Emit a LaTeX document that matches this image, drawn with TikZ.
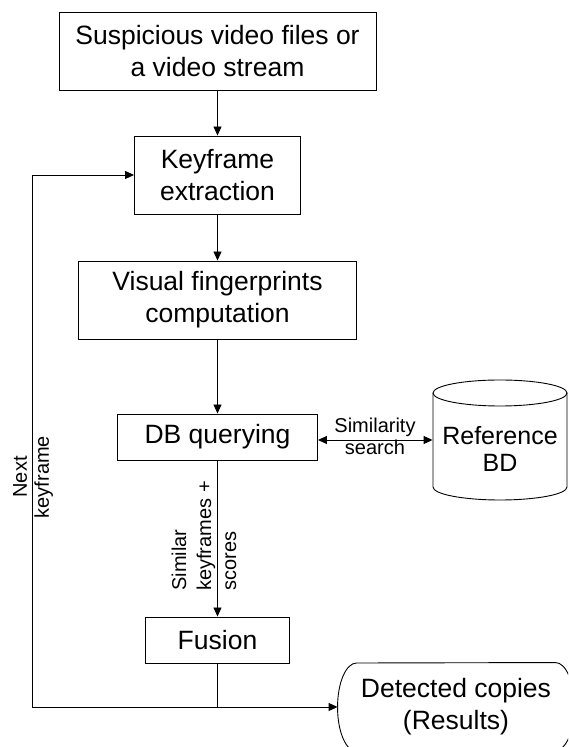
\documentclass[tikz,border=0pt]{standalone}
\usepackage{fontspec}
\setmainfont{Liberation Sans}
\usetikzlibrary{arrows.meta}

\begin{document}
\begin{tikzpicture}[x=1pt,y=1pt,
  line width=0.9pt,
  boxtext/.style={font=\fontsize{26.5}{32}\selectfont, align=center},
  procbox/.style={boxtext, draw, rectangle, inner sep=0pt},
  smalllbl/.style={font=\fontsize{20}{22}\selectfont, inner sep=0pt},
  flow/.style={-{Triangle[length=9pt,width=8pt]}},
  bothflow/.style={{Triangle[length=9pt,width=8pt]}-{Triangle[length=9pt,width=8pt]}}
]
\clip (0,0) rectangle (568,747);

% processing steps
\node[procbox, minimum width=317, minimum height=78] (src) at (217.5,696)
  {Suspicious video files or\\a video stream};
\node[procbox, minimum width=166, minimum height=78] (key) at (217.5,572)
  {Keyframe\\extraction};
\node[procbox, minimum width=278, minimum height=78] (fp) at (217.5,447)
  {Visual fingerprints\\computation};
\node[procbox, minimum width=200, minimum height=46] (db) at (217.5,310)
  {DB querying};
\node[procbox, minimum width=144, minimum height=46] (fus) at (217.5,107)
  {Fusion};

% reference database (cylinder)
\node[inner sep=0pt, minimum width=134, minimum height=120] (ref) at (500,307) {};
\draw (433,354) -- (433,260) arc[start angle=180, end angle=360, x radius=67, y radius=13]
      -- (567,354);
\draw (500,354) ellipse[x radius=67, y radius=13];
\node[boxtext, font=\fontsize{25}{27.5}\selectfont, inner sep=0pt] (reftxt) at (500,298)
  {Reference\\BD};

% results terminal
\node[boxtext, inner sep=0pt, minimum width=236, minimum height=88] (det) at (456,40)
  {Detected copies\\(Results)};
\draw (det.west) arc[start angle=180, end angle=90, x radius=19, y radius=44]
  -- ([xshift=-19pt]det.north east)
  arc[start angle=90, end angle=0, x radius=19, y radius=44]
  arc[start angle=0, end angle=-90, x radius=19, y radius=44]
  -- ([xshift=19pt]det.south west)
  arc[start angle=270, end angle=180, x radius=19, y radius=44];

% main flow
\draw[flow] (src) -- (key);
\draw[flow] (key) -- (fp);
\draw[flow] (fp) -- (db);
\draw[flow] (db) -- (fus);
\draw[bothflow] (db.east |- ref.west) -- (ref.west);

% output and feedback loop
\coordinate (junc) at (fus.south |- det.west);
\coordinate (loopbot) at (32,40);
\coordinate (looptop) at (32,572);
\draw (fus.south) -- (junc);
\draw[flow] (junc) -- (det.west);
\draw[flow] (junc) -- (loopbot) -- (looptop) -- (key.west);

% connector labels
\node[smalllbl, align=center] (simlbl) at (375,311) {Similarity\\search};
\node[smalllbl, align=center, rotate=90] (nextlbl) at (33,270) {Next\\keyframe};
\node[smalllbl, font=\fontsize{20}{25}\selectfont, align=left, rotate=90] (candlbl) at (204,211)
  {Similar\\keyframes +\\scores};
\end{tikzpicture}
\end{document}
